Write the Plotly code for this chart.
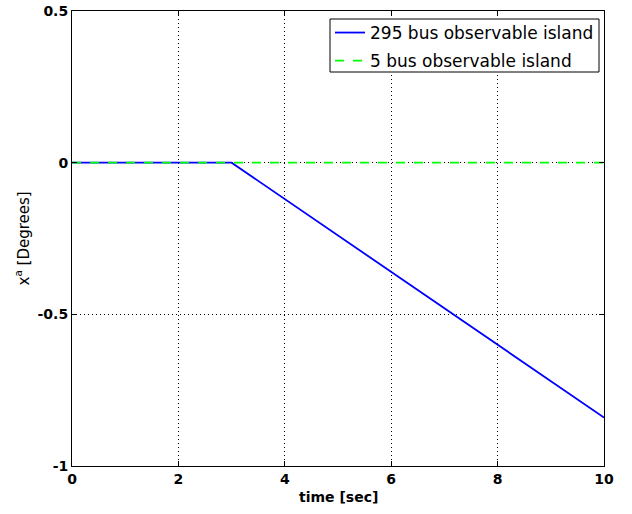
import plotly.graph_objects as go

# Data
t_295 = [0, 3, 10]
x_295 = [0, 0, -0.84]
t_5 = [0, 10]
x_5 = [0, 0]

x_ticks = [0, 2, 4, 6, 8, 10]
y_ticks = [-1, -0.5, 0, 0.5]
y_tick_labels = ["-1", "-0.5", "0", "0.5"]

FAM = "DejaVu Sans, sans-serif"

W, H = 632, 514
ML, MR, MT, MB = 72, 28, 11, 48
PW = W - ML - MR
PH = H - MT - MB


def px_x(p):
    return (p - ML) / PW


def px_y(p):
    return 1 - (p - MT) / PH


fig = go.Figure()
fig.add_trace(go.Scatter(x=t_295, y=x_295, mode="lines", name="295 bus observable island",
                         legendgroup="a",
                         line=dict(color="#0000FF", width=1.8)))
fig.add_trace(go.Scatter(x=t_5, y=x_5, mode="lines", name="5 bus observable island",
                         legendgroup="b",
                         line=dict(color="#00FF00", width=1.8, dash="dash")))

tickfont = dict(family=FAM, size=14, color="black", weight="bold")

fig.update_layout(
    width=W, height=H,
    margin=dict(l=ML, r=MR, t=MT, b=MB),
    paper_bgcolor="white", plot_bgcolor="white",
    font=dict(family=FAM, size=15, color="black"),
    showlegend=True,
    legend=dict(x=px_x(330), y=px_y(15), xanchor="left", yanchor="top",
                borderwidth=0, bgcolor="rgba(0,0,0,0)",
                font=dict(family=FAM, size=17, color="black"),
                tracegroupgap=3),
    shapes=[dict(type="rect", xref="paper", yref="paper",
                 x0=px_x(330), x1=px_x(599), y0=px_y(72), y1=px_y(19),
                 line=dict(color="black", width=1), fillcolor="white", layer="above")],
    xaxis=dict(range=[0, 10], tickvals=x_ticks, ticktext=[str(v) for v in x_ticks],
               automargin=False,
               showline=True, linecolor="black", linewidth=1, mirror="allticks",
               ticks="inside", ticklen=5, tickcolor="black",
               showgrid=True, gridcolor="black", griddash="1px,3px", gridwidth=1,
               zeroline=False,
               tickfont=tickfont),
    yaxis=dict(range=[-1, 0.5], tickvals=y_ticks, ticktext=y_tick_labels,
               automargin=False,
               showline=True, linecolor="black", linewidth=1, mirror="allticks",
               ticks="inside", ticklen=5, tickcolor="black",
               showgrid=True, gridcolor="black", griddash="1px,3px", gridwidth=1,
               zeroline=False,
               tickfont=tickfont),
    annotations=[
        dict(text="time [sec]", xref="paper", yref="paper", x=0.5, y=-31 / PH,
             xanchor="center", yanchor="middle", showarrow=False,
             font=dict(family=FAM, size=14, weight="bold", color="black")),
        dict(text="x<sup>a</sup> [Degrees]", xref="paper", yref="paper", x=-50 / PW, y=0.5,
             xanchor="center", yanchor="middle", showarrow=False, textangle=-90,
             font=dict(family=FAM, size=15, color="black")),
    ],
)

fig.write_html("out.html", config={"displayModeBar": False},
               post_script="document.body.style.margin='0';")
